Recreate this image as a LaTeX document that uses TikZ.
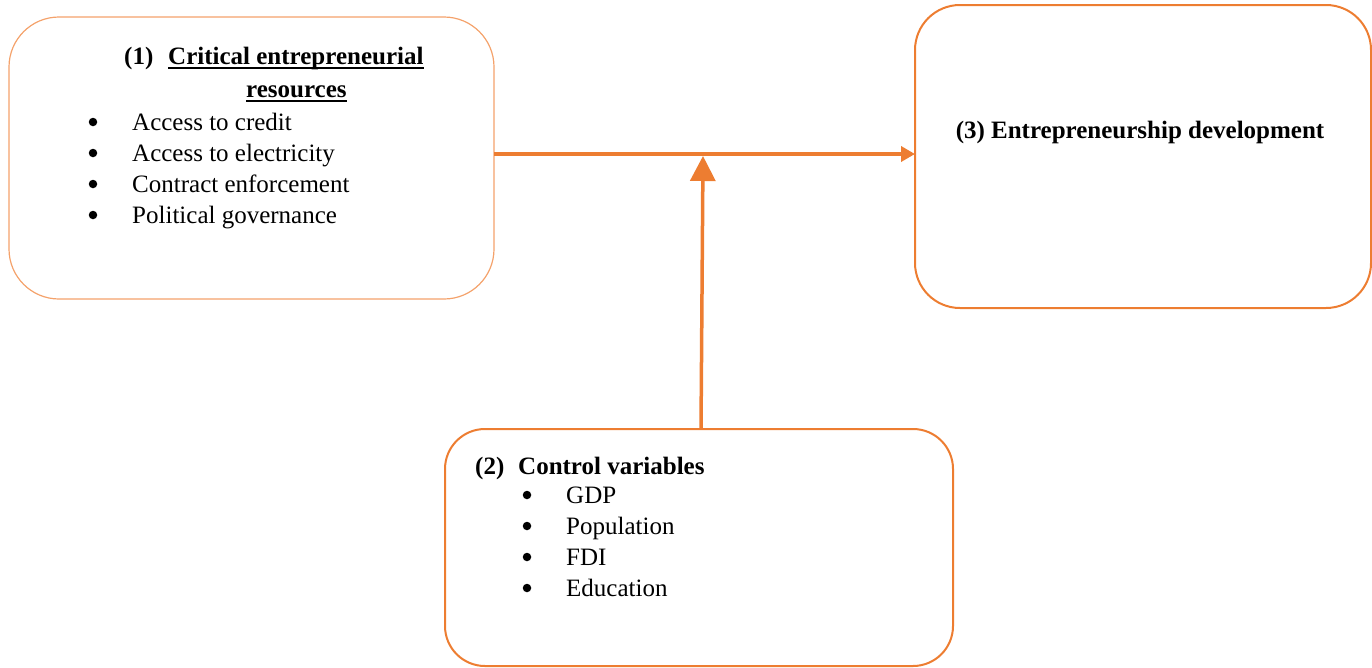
\documentclass[tikz,border=0pt]{standalone}
\usepackage{fontspec}
\setmainfont{Liberation Serif}
\usetikzlibrary{arrows.meta}
\definecolor{org}{HTML}{ED7D31}
\definecolor{orgl}{HTML}{F4A26B}
\begin{document}
\begin{tikzpicture}[x=1pt,y=-1pt,
  box/.style={draw=org, line width=2pt, rounded corners=45pt, inner sep=0pt, outer sep=0pt},
  txt/.style={inner sep=0pt, anchor=base west, font=\fontsize{25pt}{30pt}\selectfont},
  btxt/.style={inner sep=0pt, anchor=base west, font=\fontsize{25pt}{30pt}\selectfont\bfseries},
  bul/.style={circle, fill=black, inner sep=0pt, minimum size=8.5pt},
  conn/.style={draw=org, line width=4pt}]
\useasboundingbox (0,0) rectangle (1372,667);
% boxes
\node[box, draw=orgl, line width=1.2pt, rounded corners=50pt, minimum width=485pt, minimum height=282pt] (b1) at (251.5,158) {};
\node[box, minimum width=456pt, minimum height=303pt] (b3) at (1143,156.5) {};
\node[box, rounded corners=40pt, minimum width=508pt, minimum height=237pt] (b2) at (699,547.5) {};
% box 1 text
\node[btxt] (n1) at (124,64) {(1)};
\node[btxt] (h1) at (168,64) {Critical entrepreneurial};
\node[btxt] (h1b) at (246,97) {resources};
\draw[line width=1.5pt] ([yshift=-4pt]h1.base west) -- ([yshift=-4pt]h1.base east);
\draw[line width=1.5pt] ([yshift=-4pt]h1b.base west) -- ([yshift=-4pt]h1b.base east);
\node[bul] (u1) at (93,122) {};
\node[bul] (u2) at (93,153) {};
\node[bul] (u3) at (93,184) {};
\node[bul] (u4) at (93,215) {};
\node[txt] (i1) at (132,130) {Access to credit};
\node[txt] (i2) at (132,161) {Access to electricity};
\node[txt] (i3) at (132,192) {Contract enforcement};
\node[txt] (i4) at (132,223) {Political governance};
% box 2 text
\node[btxt] (n2) at (475,474) {(2)};
\node[btxt] (h2) at (518,474) {Control variables};
\node[bul] (v1) at (527,495) {};
\node[bul] (v2) at (527,526) {};
\node[bul] (v3) at (527,557) {};
\node[bul] (v4) at (527,588) {};
\node[txt] (j1) at (566,503) {GDP};
\node[txt] (j2) at (566,534) {Population};
\node[txt] (j3) at (566,565) {FDI};
\node[txt] (j4) at (566,596) {Education};
% box 3 text
\node[btxt, anchor=base] (t3) at (1140,138) {(3) Entrepreneurship development};
% connectors
\coordinate (hy) at (0,154);
\coordinate (vt) at (703,156);
\draw[conn, -{Triangle[length=14pt,width=15pt]}] (b1.east |- hy) -- (b3.west |- hy);
\draw[draw=org, line width=3.5pt, -{Triangle[length=25pt,width=25pt]}] ([xshift=2pt]b2.north) -- (vt);
\end{tikzpicture}
\end{document}
